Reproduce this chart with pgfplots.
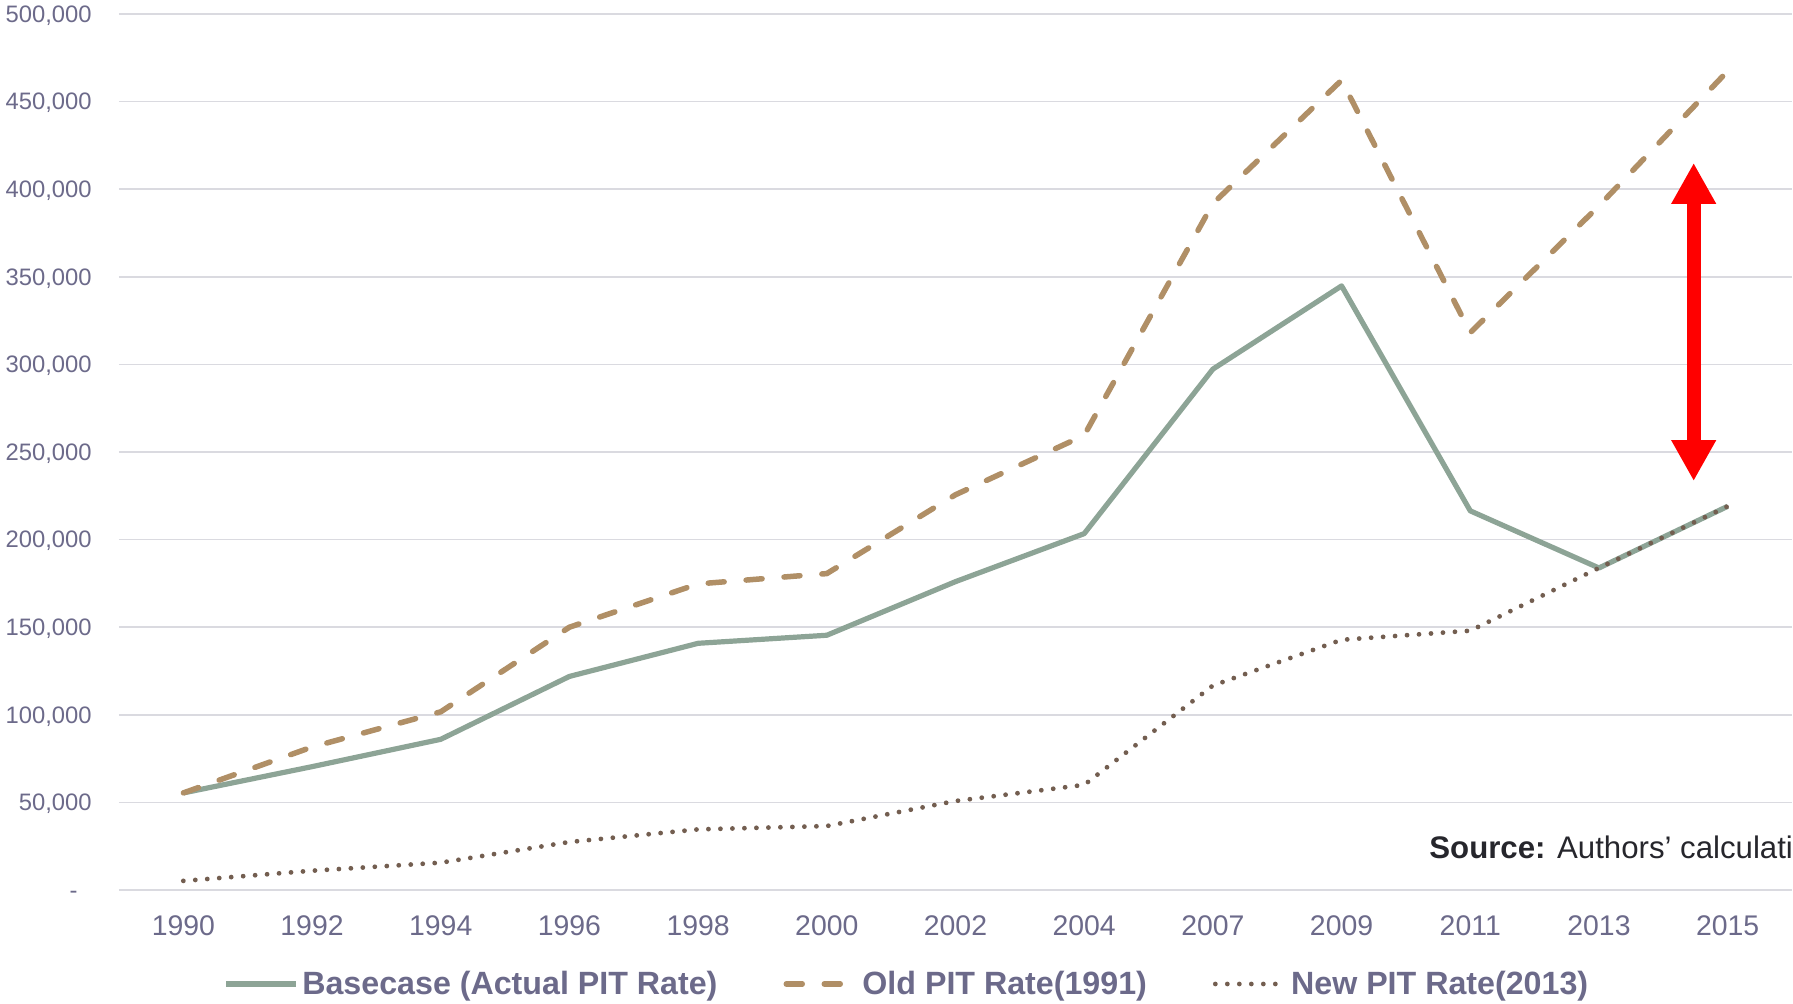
\documentclass[border=0pt]{standalone}
\usepackage{pgfplots}
\pgfplotsset{compat=1.18}
\usepackage{fontspec}
\setmainfont{Liberation Sans}
\usetikzlibrary{arrows.meta}
\definecolor{basec}{RGB}{141,164,150}
\definecolor{oldc}{RGB}{176,143,102}
\definecolor{newc}{RGB}{115,94,80}
\definecolor{tickc}{RGB}{108,106,138}
\definecolor{gridc}{RGB}{218,218,224}
\definecolor{srcc}{RGB}{38,38,44}
\begin{document}
\begin{tikzpicture}
\useasboundingbox (-59.5pt,-57pt) rectangle (837pt,445pt);
\clip (-59.5pt,-57pt) rectangle (837pt,445pt);
\begin{axis}[
  at={(0pt,0pt)}, anchor=south west,
  scale only axis, width=836.5pt, height=438pt,
  xmin=-0.5, xmax=12.5, ymin=0, ymax=500000,
  xtick={0,1,2,3,4,5,6,7,8,9,10,11,12},
  xticklabels={1990,1992,1994,1996,1998,2000,2002,2004,2007,2009,2011,2013,2015},
  ytick={0,50000,100000,150000,200000,250000,300000,350000,400000,450000,500000},
  yticklabels={{-\kern7pt},{50,000},{100,000},{150,000},{200,000},{250,000},{300,000},{350,000},{400,000},{450,000},{500,000}},
  scaled y ticks=false,
  major tick length=0pt,
  axis line style={draw=none},
  ymajorgrids, grid style={gridc, line width=0.8pt},
  tick label style={text=tickc},
  xticklabel style={font=\fontsize{14.2}{16}\selectfont, anchor=north, inner sep=0pt, yshift=-12.5pt},
  yticklabel style={font=\fontsize{11.9}{14}\selectfont, anchor=base east, inner sep=0pt, xshift=-13.5pt, yshift=-4.2pt},
  legend style={at={(0.4704,-0.1073)}, anchor=center, draw=none, fill=none,
    font=\fontsize{16.1}{19}\selectfont\bfseries, text=tickc, inner sep=0pt,
    nodes={inner sep=0pt},
    /tikz/every odd column/.append style={column sep=1.7pt},
    /tikz/every even column/.append style={column sep=33pt}},
  legend columns=3,
  legend cell align=left,
  legend image code/.code={\draw[#1] (0pt,0pt) -- (35pt,0pt);},
]
\addplot[basec, line width=2.6pt, line join=round] coordinates {
(0,55400)(1,70400)(2,86000)(3,121900)(4,140800)(5,145400)(6,176000)(7,203400)(8,297300)(9,344800)(10,216400)(11,183800)(12,219000)};
\addlegendentry{Basecase (Actual PIT Rate)}
\addplot[oldc, line width=2.75pt, line cap=round, line join=round, dash pattern=on 8pt off 11pt] coordinates {
(0,55400)(1,81600)(2,101700)(3,150000)(4,174700)(5,180600)(6,225600)(7,259500)(8,391800)(9,462200)(10,318100)(11,390500)(12,467400)};
\addlegendentry{Old PIT Rate(1991)}
\addplot[newc, line width=2.4pt, line cap=round, line join=round, dash pattern=on 0pt off 6pt] coordinates {
(0,5200)(1,11000)(2,15600)(3,27400)(4,34600)(5,36500)(6,50800)(7,60000)(8,116700)(9,142800)(10,148000)(11,183800)(12,219000)};
\addlegendentry{New PIT Rate(2013)}
\draw[red, line width=7pt, {Triangle[length=20.5pt,width=21pt]}-{Triangle[length=20.5pt,width=21pt]}] (axis cs:11.736,233400) -- (axis cs:11.736,415000);
\node[anchor=base west, font=\fontsize{15.6}{18}\selectfont, text=srcc, inner sep=0pt] at (axis description cs:0.783,0.0365) {\textbf{Source:} Authors’ calculations};
\end{axis}
\end{tikzpicture}
\end{document}
